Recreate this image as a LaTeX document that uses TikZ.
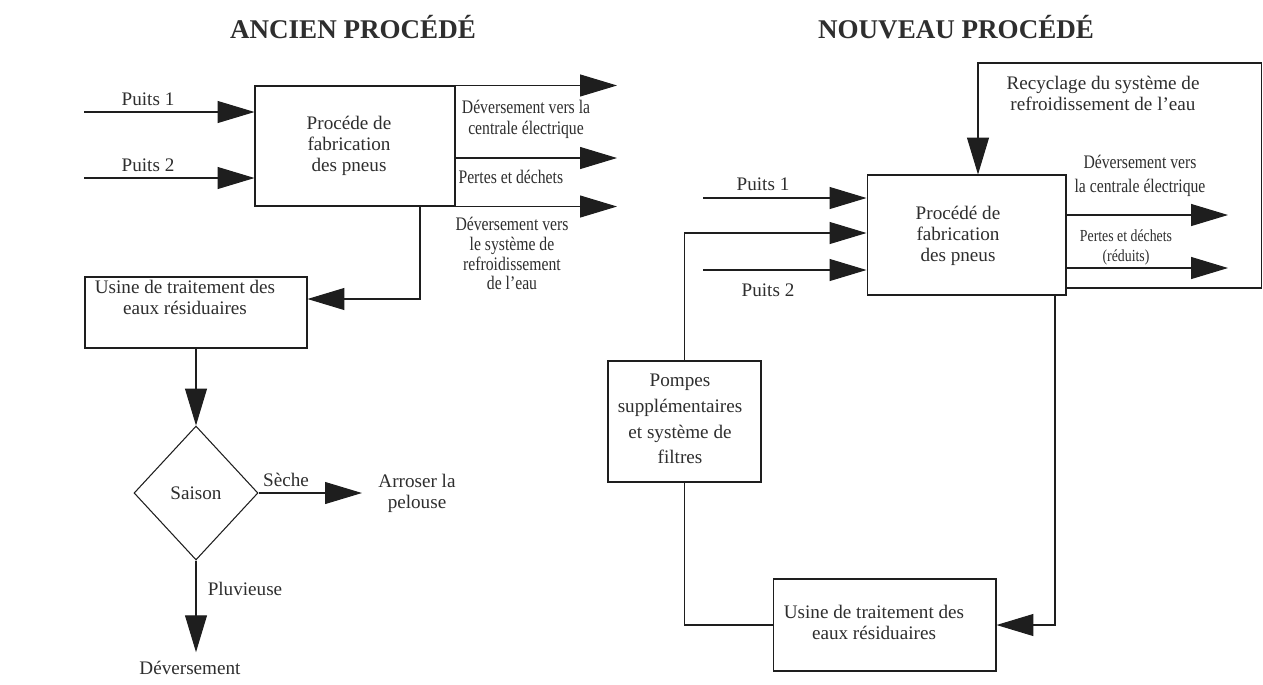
\documentclass[tikz,border=0pt]{standalone}
\usepackage{fontspec}
\setmainfont{Liberation Serif}
\newfontfamily\condfont[FakeStretch=0.82]{Liberation Serif}
\usetikzlibrary{arrows.meta,shapes.geometric}
\definecolor{ink}{HTML}{1E1E1E}
\definecolor{txtc}{HTML}{2E2E2E}
\begin{document}
\begin{tikzpicture}[x=0.02cm,y=-0.02cm,
  line width=0.6pt, draw=ink,
  flow/.style={draw=ink, -{Triangle[length=21pt,width=12.5pt]}},
  line/.style={draw=ink},
  box/.style={draw=ink, rectangle, inner sep=0pt},
  txt/.style={font=\fontsize{10.9}{11.9}\selectfont, align=center, inner sep=0pt, text=txtc},
  ptxt/.style={font=\fontsize{10.9}{14.6}\selectfont, align=center, inner sep=0pt, text=txtc},
  ctxt/.style={font=\condfont\fontsize{10.9}{11.9}\selectfont, align=center, inner sep=0pt, text=txtc},
  stxt/.style={font=\condfont\fontsize{9.6}{11}\selectfont, align=center, inner sep=0pt, text=txtc},
  ttl/.style={font=\bfseries\fontsize{15.4}{18}\selectfont, inner sep=0pt, anchor=base, text=txtc}]
\useasboundingbox[fill=white] (0,0) rectangle (1263,684);

% ---------------- ANCIEN PROCEDE ----------------
\node[ttl] (t1) at (353,38) {ANCIEN PROCÉDÉ};
\node[box, minimum width=4cm, minimum height=2.4cm] (p1) at (355,146) {};
\node[txt] (p1t) at (349,145.5) {Procéde de\\fabrication\\des pneus};

\coordinate (w1) at (84,112);
\coordinate (w2) at (84,178);
\draw[flow] (w1) -- (w1 -| p1.west);
\draw[flow] (w2) -- (w2 -| p1.west);
\node[txt, anchor=base] (lw1) at (148,105) {Puits 1};
\node[txt, anchor=base] (lw2) at (148,171) {Puits 2};

\coordinate (oe1) at (617,0);
\coordinate (ym1) at (0,158);
\draw[flow] (p1.north east) -- (p1.north east -| oe1);
\draw[flow] (p1.east |- ym1) -- (oe1 |- ym1);
\draw[flow] (p1.south east) -- (p1.south east -| oe1);
\node[ctxt] (lo1) at (526,119.5) {Déversement vers la\\centrale électrique};
\node[ctxt, anchor=base west] (lo2) at (458,183) {Pertes et déchets};
\node[ctxt, font=\condfont\fontsize{10.9}{11.3}\selectfont] (lo3) at (512,253.5) {Déversement vers\\le système de\\refroidissement\\de l’eau};

\node[box, minimum width=4.44cm, minimum height=1.42cm] (u1) at (196,312.5) {};
\node[txt] (u1t) at (185,297) {Usine de traitement des\\eaux résiduaires};
\coordinate (c1) at (420,299);
\draw[flow] (p1.south -| c1) -- (c1) -- (c1 -| u1.east);

\node[diamond, draw=ink, minimum width=2.48cm, minimum height=2.68cm, inner sep=0pt, txt] (d1) at (196,493) {Saison};
\draw[flow] (u1.south) -- (d1.north);

\node[txt] (ar) at (417,493.5) {Arroser la\\pelouse};
\draw[flow, shorten >=0.32cm] (d1.east) -- (d1.east -| ar.west);
\node[txt, anchor=base] (ls) at (286,486) {Sèche};

\node[txt, anchor=base] (dv) at (190,674) {Déversement};
\draw[flow, shorten >=0.16cm] (d1.south) -- (d1.south |- dv.north);
\node[txt, anchor=base] (lp) at (245,595) {Pluvieuse};

% ---------------- NOUVEAU PROCEDE ----------------
\node[ttl] (t2) at (956,38) {NOUVEAU PROCÉDÉ};
\node[box, minimum width=3.98cm, minimum height=2.4cm] (p2) at (966.5,235) {};
\node[txt] (p2t) at (958,235.5) {Procédé de\\fabrication\\des pneus};

\coordinate (v1) at (703,198);
\coordinate (v2) at (703,270);
\draw[flow] (v1) -- (v1 -| p2.west);
\draw[flow] (v2) -- (v2 -| p2.west);
\node[txt, anchor=base] (lv1) at (763,190) {Puits 1};
\node[txt, anchor=base] (lv2) at (768,296) {Puits 2};

\node[box, minimum width=3.06cm, minimum height=2.42cm] (q) at (684.5,421.5) {};
\node[ptxt] (qt) at (680,419) {Pompes\\supplémentaires\\et système de\\filtres};
\coordinate (r1) at (684.5,233);
\draw[flow] (q.north) -- (r1) -- (r1 -| p2.west);

\node[box, minimum width=4.46cm, minimum height=1.84cm] (u2) at (884.5,625) {};
\node[txt] (u2t) at (874,622) {Usine de traitement des\\eaux résiduaires};
\coordinate (r2) at (1055,625);
\draw[flow] (p2.south -| r2) -- (r2) -- (u2.east);
\draw[line] (u2.west) -| (q.south);

\coordinate (oe2) at (1228,0);
\coordinate (ya) at (0,215);
\coordinate (yb) at (0,268);
\coordinate (yc) at (0,288);
\draw[flow] (p2.east |- ya) -- (oe2 |- ya);
\draw[flow] (p2.east |- yb) -- (oe2 |- yb);
\node[ctxt, font=\condfont\fontsize{10.9}{14}\selectfont] (lo4) at (1140,176) {Déversement vers\\la centrale électrique};
\node[stxt] (lo5) at (1126,247.5) {Pertes et déchets\\(réduits)};

\coordinate (k1) at (1261.5,63);
\coordinate (k2) at (978,63);
\draw[flow] (p2.east |- yc) -- (k1 |- yc) -- (k1) -- (k2) -- (k2 |- p2.north);
\node[txt] (rt) at (1103,93.5) {Recyclage du système de\\refroidissement de l’eau};
\end{tikzpicture}
\end{document}
